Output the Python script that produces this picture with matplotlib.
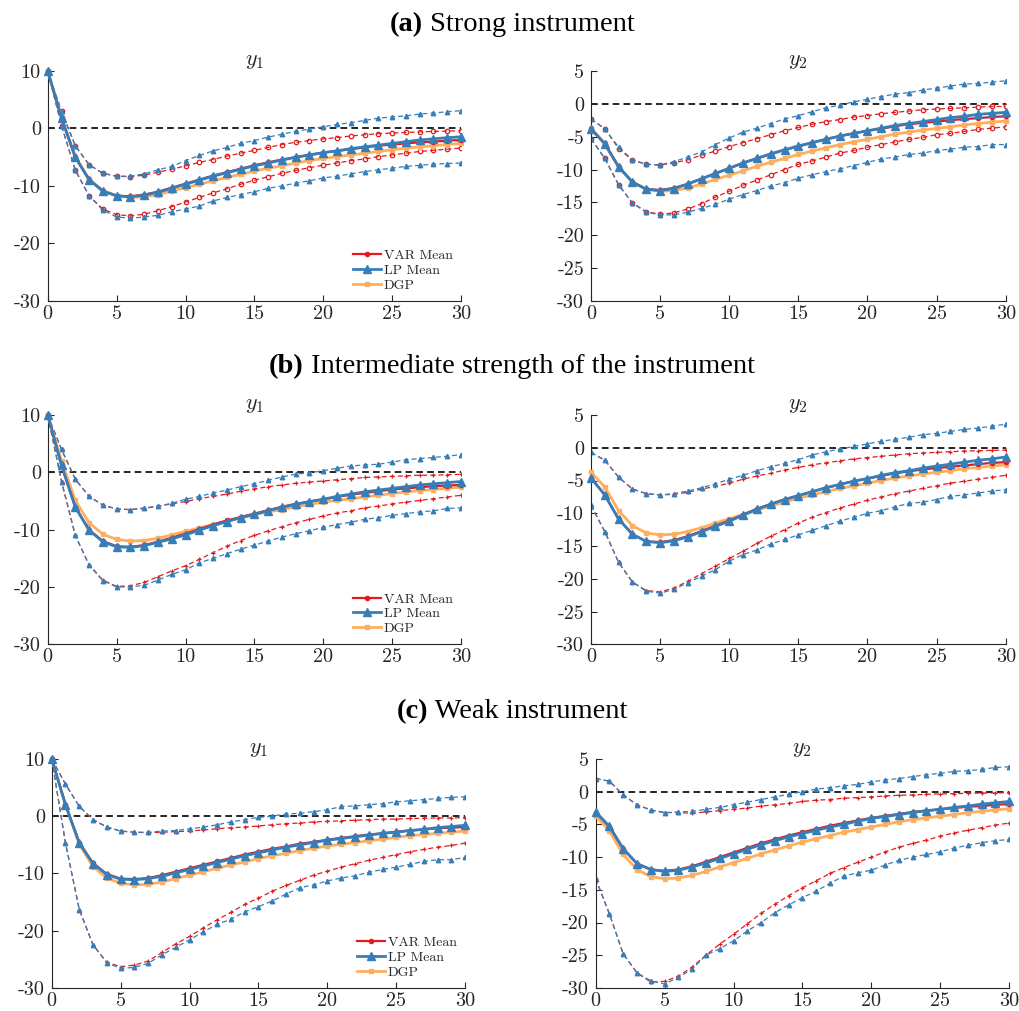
import matplotlib
matplotlib.use("Agg")
import matplotlib.pyplot as plt

plt.rcParams["font.family"] = "cmr10"
plt.rcParams["mathtext.fontset"] = "cm"
plt.rcParams["axes.unicode_minus"] = False
plt.rcParams["axes.formatter.use_mathtext"] = True

horizons = list(range(31))

# True impulse responses of the data generating process
dgp_y1 = [10, 2.0, -4.9, -8.8, -10.8, -11.7, -12.0, -11.9, -11.5, -10.9, -10.3, -9.7, -9.1, -8.5, -8.0,
          -7.4, -6.9, -6.5, -6.0, -5.6, -5.2, -4.9, -4.6, -4.3, -4.0, -3.7, -3.4, -3.2, -3.0, -2.8, -2.6]
dgp_y2 = [-3.7, -6.0, -9.6, -11.9, -13.0, -13.3, -13.2, -12.8, -12.2, -11.5, -10.85, -10.2, -9.5, -8.9, -8.3,
          -7.7, -7.2, -6.7, -6.2, -5.8, -5.4, -5.0, -4.6, -4.3, -4.0, -3.75, -3.5, -3.2, -3.0, -2.8, -2.6]

# (a) Strong instrument, y1
a1_var_mean = [10, 1.8, -5.0, -8.9, -10.9, -11.7, -11.8, -11.5, -11.0, -10.3, -9.6, -8.9, -8.2, -7.6, -7.0,
               -6.4, -5.9, -5.4, -5.0, -4.6, -4.2, -3.9, -3.6, -3.3, -3.0, -2.8, -2.6, -2.4, -2.3, -2.1, -2.0]
a1_var_hi = [10, 3.0, -3.0, -6.3, -7.8, -8.3, -8.4, -8.1, -7.6, -7.1, -6.5, -5.9, -5.4, -4.8, -4.3,
             -3.8, -3.3, -2.8, -2.4, -2.1, -1.8, -1.6, -1.3, -1.1, -0.9, -0.8, -0.7, -0.6, -0.5, -0.45, -0.4]
a1_var_lo = [10, 0.5, -7.2, -11.7, -14.0, -15.0, -15.2, -14.9, -14.3, -13.6, -12.8, -12.0, -11.2, -10.5, -9.7,
             -9.0, -8.4, -7.8, -7.3, -6.8, -6.4, -6.0, -5.6, -5.3, -4.9, -4.6, -4.3, -4.0, -3.8, -3.6, -3.4]
a1_lp_mean = [10, 1.8, -5.0, -8.9, -10.9, -11.7, -11.9, -11.6, -11.1, -10.4, -9.7, -9.0, -8.3, -7.7, -7.1,
              -6.5, -6.0, -5.5, -5.0, -4.6, -4.2, -3.9, -3.5, -3.2, -2.9, -2.6, -2.3, -2.0, -1.8, -1.6, -1.45]
a1_lp_hi = [10, 3.0, -3.0, -6.3, -7.8, -8.3, -8.3, -7.9, -7.2, -6.6, -5.6, -4.7, -3.9, -3.3, -2.6,
            -2.1, -1.5, -1.0, -0.5, -0.1, 0.3, 0.7, 1.0, 1.4, 1.8, 2.0, 2.2, 2.5, 2.7, 2.9, 3.1]
a1_lp_lo = [10, 0.5, -7.3, -11.7, -14.2, -15.4, -15.6, -15.4, -15.1, -14.5, -14.0, -13.5, -12.6, -12.0, -11.5,
            -11.0, -10.4, -10.0, -9.5, -9.1, -8.6, -8.3, -7.9, -7.5, -7.2, -6.9, -6.6, -6.4, -6.2, -6.1, -6.0]

# (a) Strong instrument, y2
a2_var_mean = [-3.8, -6.1, -9.6, -11.9, -13.0, -13.1, -12.8, -12.2, -11.4, -10.6, -9.8, -9.0, -8.3, -7.7, -7.0,
               -6.5, -5.9, -5.4, -4.9, -4.5, -4.1, -3.8, -3.4, -3.1, -2.9, -2.7, -2.5, -2.3, -2.2, -2.0, -1.9]
a2_var_hi = [-2.3, -3.8, -6.8, -8.6, -9.2, -9.3, -9.0, -8.5, -7.8, -7.2, -6.5, -5.9, -5.3, -4.7, -4.1,
             -3.6, -3.1, -2.7, -2.4, -2.0, -1.8, -1.5, -1.3, -1.1, -0.9, -0.8, -0.7, -0.6, -0.5, -0.4, -0.4]
a2_var_lo = [-5.3, -8.3, -12.3, -15.1, -16.4, -16.8, -16.6, -16.0, -15.2, -14.2, -13.3, -12.4, -11.6, -10.8, -10.0,
             -9.2, -8.7, -8.1, -7.5, -7.1, -6.6, -6.2, -5.8, -5.4, -5.1, -4.7, -4.5, -4.2, -3.9, -3.7, -3.5]
a2_lp_mean = [-3.8, -6.1, -9.6, -11.9, -13.0, -13.2, -12.9, -12.2, -11.4, -10.6, -9.8, -9.0, -8.3, -7.6, -7.0,
              -6.4, -5.9, -5.4, -4.9, -4.5, -4.1, -3.7, -3.3, -3.0, -2.7, -2.4, -2.1, -1.9, -1.6, -1.45, -1.3]
a2_lp_hi = [-2.3, -3.8, -6.6, -8.5, -9.2, -9.3, -8.8, -8.1, -7.3, -6.2, -5.2, -4.3, -3.7, -3.0, -2.3,
            -1.8, -1.2, -0.6, -0.2, 0.3, 0.7, 1.1, 1.5, 1.7, 2.1, 2.4, 2.7, 3.0, 3.1, 3.3, 3.5]
a2_lp_lo = [-5.3, -8.3, -12.4, -15.1, -16.5, -16.9, -16.9, -16.5, -15.9, -15.3, -14.5, -13.8, -13.2, -12.5, -12.0,
            -11.3, -10.8, -10.3, -9.9, -9.4, -8.9, -8.4, -8.1, -7.7, -7.5, -7.1, -6.9, -6.6, -6.5, -6.2, -6.2]

# (b) Intermediate strength, y1
b1_var_mean = [10, 1.2, -6.0, -10.0, -12.0, -12.9, -13.0, -12.7, -12.1, -11.4, -10.7, -9.9, -9.1, -8.4, -7.8,
               -7.2, -6.6, -6.0, -5.5, -5.1, -4.7, -4.3, -3.9, -3.6, -3.3, -3.0, -2.8, -2.6, -2.4, -2.3, -2.2]
b1_var_hi = [10, 4.0, -1.2, -4.2, -5.7, -6.4, -6.5, -6.3, -5.9, -5.5, -5.1, -4.6, -4.2, -3.8, -3.3,
             -2.9, -2.5, -2.2, -1.9, -1.7, -1.5, -1.3, -1.1, -0.9, -0.8, -0.7, -0.6, -0.5, -0.5, -0.4, -0.35]
b1_var_lo = [10, -1.6, -11.0, -16.1, -18.8, -19.9, -19.8, -19.2, -18.2, -17.2, -16.3, -15.2, -14.0, -12.9, -11.9,
             -11.0, -10.2, -9.5, -8.8, -8.2, -7.6, -7.1, -6.7, -6.2, -5.9, -5.5, -5.2, -4.9, -4.6, -4.3, -4.0]
b1_lp_mean = [10, 1.2, -6.1, -10.1, -12.1, -13.0, -13.1, -12.8, -12.2, -11.6, -10.9, -10.1, -9.3, -8.6, -7.9,
              -7.3, -6.7, -6.1, -5.6, -5.1, -4.7, -4.2, -3.8, -3.4, -3.1, -2.8, -2.5, -2.2, -2.0, -1.8, -1.6]
b1_lp_hi = [10, 4.0, -1.2, -4.2, -5.7, -6.4, -6.5, -6.2, -5.9, -5.4, -4.7, -4.2, -3.6, -3.1, -2.5,
            -2.0, -1.4, -0.8, -0.3, -0.1, 0.3, 0.7, 1.1, 1.3, 1.4, 1.8, 2.2, 2.4, 2.6, 2.8, 3.1]
b1_lp_lo = [10, -1.6, -11.0, -16.2, -18.9, -20.0, -20.0, -19.7, -18.8, -17.8, -17.0, -15.8, -15.0, -14.2, -13.4,
            -12.7, -12.0, -11.3, -10.7, -10.2, -9.6, -9.1, -8.7, -8.2, -7.9, -7.5, -7.2, -6.9, -6.7, -6.3, -6.2]

# (b) Intermediate strength, y2
b2_var_mean = [-4.6, -7.2, -10.9, -13.2, -14.3, -14.4, -14.1, -13.5, -12.7, -11.9, -11.1, -10.2, -9.3, -8.6, -7.9,
               -7.3, -6.7, -6.1, -5.6, -5.1, -4.7, -4.3, -3.9, -3.6, -3.3, -3.1, -2.9, -2.7, -2.5, -2.3, -2.2]
b2_var_hi = [-0.7, -1.9, -4.5, -6.3, -7.0, -7.2, -7.1, -6.8, -6.3, -5.9, -5.4, -4.8, -4.3, -3.9, -3.4,
             -3.0, -2.6, -2.3, -2.0, -1.7, -1.5, -1.3, -1.1, -0.9, -0.8, -0.7, -0.6, -0.5, -0.45, -0.4, -0.35]
b2_var_lo = [-8.8, -12.8, -17.5, -20.5, -21.8, -22.0, -21.4, -20.4, -19.2, -18.1, -16.9, -15.8, -14.6, -13.5, -12.5,
             -11.5, -10.6, -9.9, -9.2, -8.6, -8.0, -7.5, -7.0, -6.6, -6.2, -5.8, -5.4, -5.1, -4.8, -4.5, -4.2]
b2_lp_mean = [-4.6, -7.2, -10.9, -13.2, -14.3, -14.5, -14.2, -13.6, -12.8, -12.0, -11.2, -10.3, -9.4, -8.6, -7.9,
              -7.3, -6.7, -6.1, -5.6, -5.1, -4.7, -4.2, -3.8, -3.5, -3.1, -2.8, -2.5, -2.2, -1.9, -1.7, -1.4]
b2_lp_hi = [-0.7, -1.9, -4.5, -6.3, -7.0, -7.2, -7.0, -6.6, -6.1, -5.5, -4.8, -4.2, -3.5, -2.9, -2.4,
            -1.8, -1.1, -0.6, -0.2, 0.2, 0.6, 1.0, 1.3, 1.6, 2.0, 2.2, 2.5, 2.8, 3.0, 3.3, 3.6]
b2_lp_lo = [-8.8, -12.8, -17.5, -20.5, -21.9, -22.2, -21.6, -20.6, -19.6, -18.6, -17.3, -16.3, -15.6, -14.7, -14.0,
            -13.3, -12.6, -11.9, -11.2, -10.6, -10.0, -9.6, -9.0, -8.5, -8.3, -7.9, -7.4, -7.2, -6.9, -6.6, -6.4]

# (c) Weak instrument, y1
c1_var_mean = [10, 2.0, -4.6, -8.2, -10.1, -10.9, -11.0, -10.8, -10.3, -9.7, -9.1, -8.5, -7.9, -7.3, -6.7,
               -6.2, -5.7, -5.3, -4.8, -4.5, -4.1, -3.8, -3.5, -3.2, -3.0, -2.7, -2.5, -2.3, -2.1, -2.0, -1.9]
c1_var_hi = [10, 5.6, 1.7, -0.6, -1.9, -2.6, -2.8, -2.9, -2.8, -2.7, -2.6, -2.4, -2.2, -2.0, -1.9,
             -1.7, -1.5, -1.3, -1.2, -1.0, -0.9, -0.8, -0.7, -0.6, -0.5, -0.5, -0.4, -0.35, -0.3, -0.3, -0.25]
c1_var_lo = [10, -4.7, -16.3, -22.5, -25.5, -26.3, -26.0, -25.3, -23.8, -22.3, -21.0, -19.5, -18.1, -16.8, -15.4,
             -14.3, -13.1, -12.1, -11.2, -10.3, -9.6, -8.9, -8.3, -7.7, -7.2, -6.7, -6.2, -5.8, -5.4, -5.1, -4.7]
c1_lp_mean = [10, 2.0, -4.7, -8.3, -10.2, -11.0, -11.1, -10.9, -10.5, -9.9, -9.3, -8.7, -8.1, -7.5, -6.9,
              -6.4, -5.9, -5.4, -5.0, -4.6, -4.2, -3.9, -3.6, -3.3, -3.0, -2.8, -2.5, -2.3, -2.0, -1.8, -1.6]
c1_lp_hi = [10, 5.6, 1.7, -0.6, -1.9, -2.6, -2.8, -2.8, -2.6, -2.5, -2.2, -1.9, -1.5, -1.0, -0.6,
            -0.2, 0.0, 0.4, 0.5, 0.8, 1.1, 1.7, 1.8, 2.0, 2.2, 2.5, 2.7, 2.9, 3.1, 3.3, 3.4]
c1_lp_lo = [10, -4.7, -16.3, -22.5, -25.6, -26.6, -26.4, -25.7, -24.2, -22.9, -21.6, -20.2, -18.9, -18.0, -16.7,
            -15.8, -14.8, -13.6, -12.5, -12.0, -11.3, -10.8, -10.4, -9.8, -9.3, -8.9, -8.4, -7.9, -7.6, -7.6, -7.2]

# (c) Weak instrument, y2
c2_var_mean = [-3.2, -5.4, -8.8, -11.0, -11.9, -12.1, -11.9, -11.4, -10.7, -10.0, -9.3, -8.6, -7.9, -7.3, -6.7,
               -6.2, -5.7, -5.2, -4.8, -4.4, -4.0, -3.7, -3.4, -3.1, -2.9, -2.7, -2.5, -2.3, -2.2, -2.0, -1.9]
c2_var_hi = [2.0, 1.6, -0.5, -2.0, -2.8, -3.2, -3.2, -3.3, -3.1, -2.9, -2.7, -2.5, -2.2, -2.0, -1.8,
             -1.5, -1.3, -1.2, -1.0, -0.9, -0.8, -0.65, -0.55, -0.5, -0.4, -0.35, -0.3, -0.25, -0.2, -0.2, -0.15]
c2_var_lo = [-13.3, -18.7, -24.8, -27.7, -29.1, -29.0, -28.2, -26.8, -25.0, -23.3, -21.8, -20.2, -18.6, -17.2, -15.9,
             -14.7, -13.6, -12.5, -11.6, -10.8, -10.0, -9.2, -8.5, -7.9, -7.4, -6.8, -6.3, -5.9, -5.5, -5.1, -4.8]
c2_lp_mean = [-3.1, -5.3, -8.7, -11.0, -11.9, -12.2, -12.0, -11.5, -10.9, -10.2, -9.5, -8.8, -8.1, -7.5, -6.9,
              -6.4, -5.9, -5.4, -5.0, -4.5, -4.1, -3.8, -3.5, -3.2, -2.9, -2.7, -2.4, -2.2, -1.9, -1.7, -1.5]
c2_lp_hi = [2.0, 1.6, -0.5, -2.0, -2.8, -3.2, -3.1, -3.0, -2.7, -2.4, -2.0, -1.6, -1.2, -0.8, -0.4,
            0.0, 0.4, 0.6, 0.9, 1.1, 1.5, 1.8, 2.0, 2.3, 2.6, 2.8, 3.1, 3.2, 3.4, 3.7, 3.8]
c2_lp_lo = [-13.3, -18.7, -24.8, -27.7, -28.9, -29.4, -28.4, -27.1, -25.0, -24.0, -22.8, -21.3, -20.0, -18.5, -17.3,
            -16.2, -15.2, -14.0, -12.9, -12.4, -12.0, -11.2, -10.5, -10.0, -9.6, -9.2, -8.6, -8.2, -7.8, -7.5, -7.3]

x_ticks = [0, 5, 10, 15, 20, 25, 30]
x_tick_labels = ["0", "5", "10", "15", "20", "25", "30"]
y1_ticks = [-30, -20, -10, 0, 10]
y1_tick_labels = ["-30", "-20", "-10", "0", "10"]
y2_ticks = [-30, -25, -20, -15, -10, -5, 0, 5]
y2_tick_labels = ["-30", "-25", "-20", "-15", "-10", "-5", "0", "5"]

section_tags = ["(a)", "(b)", "(c)"]
section_names = ["Strong instrument", "Intermediate strength of the instrument", "Weak instrument"]
series_labels = ["VAR Mean", "LP Mean", "DGP"]
panel_titles = [r"$y_1$", r"$y_2$"]

RED = "#E41A1C"
BLUE = "#377EB8"
ORANGE = "#FFAE5E"
TEXT = "#262626"

fig = plt.figure(figsize=(10.2, 10.11), dpi=100)

# axes rectangles [left, bottom, width, height] in figure fractions
rows = [
    ([0.0468, 0.7023, 0.4052, 0.2275], [0.5794, 0.7023, 0.4066, 0.2275]),
    ([0.0468, 0.3627, 0.4052, 0.2268], [0.5794, 0.3627, 0.4066, 0.2268]),
    ([0.0507, 0.0228, 0.4054, 0.2265], [0.5840, 0.0228, 0.4054, 0.2265]),
]
title_y = [0.9753, 0.6370, 0.2958]

panels = [
    [(dgp_y1, a1_var_mean, a1_var_lo, a1_var_hi, a1_lp_mean, a1_lp_lo, a1_lp_hi),
     (dgp_y2, a2_var_mean, a2_var_lo, a2_var_hi, a2_lp_mean, a2_lp_lo, a2_lp_hi)],
    [(dgp_y1, b1_var_mean, b1_var_lo, b1_var_hi, b1_lp_mean, b1_lp_lo, b1_lp_hi),
     (dgp_y2, b2_var_mean, b2_var_lo, b2_var_hi, b2_lp_mean, b2_lp_lo, b2_lp_hi)],
    [(dgp_y1, c1_var_mean, c1_var_lo, c1_var_hi, c1_lp_mean, c1_lp_lo, c1_lp_hi),
     (dgp_y2, c2_var_mean, c2_var_lo, c2_var_hi, c2_lp_mean, c2_lp_lo, c2_lp_hi)],
]

band_markers = ["o", "+", "+"]


def draw_panel(ax, series, col, row):
    dgp, vm, vlo, vhi, lm, llo, lhi = series
    ax.axhline(0, color="black", lw=1.2, ls=(0, (4, 2.5)), zorder=1)
    vkw = dict(color=RED, lw=0.9, ls=(0, (4, 2.5)), marker=band_markers[row], ms=3.2,
               mfc="none" if row == 0 else RED, mew=0.9, zorder=2)
    ax.plot(horizons, vhi, **vkw)
    ax.plot(horizons, vlo, **vkw)
    lkw = dict(color=BLUE, lw=0.9, ls=(0, (4, 2.5)), marker="^", ms=3.2, zorder=2)
    ax.plot(horizons, lhi, **lkw)
    ax.plot(horizons, llo, **lkw)
    h_dgp, = ax.plot(horizons, dgp, color=ORANGE, lw=2.0, marker="s", ms=2.8, zorder=3)
    h_var, = ax.plot(horizons, vm, color=RED, lw=1.6, marker=".", ms=6, zorder=4)
    h_lp, = ax.plot(horizons, lm, color=BLUE, lw=2.0, marker="^", ms=6, zorder=5)

    ax.set_xlim(0, 30)
    if col == 0:
        ax.set_ylim(-30, 10)
        ax.set_yticks(y1_ticks, y1_tick_labels)
    else:
        ax.set_ylim(-30, 5)
        ax.set_yticks(y2_ticks, y2_tick_labels)
    ax.set_xticks(x_ticks, x_tick_labels)
    for side in ("top", "right"):
        ax.spines[side].set_visible(False)
    for side in ("left", "bottom"):
        ax.spines[side].set_color(TEXT)
        ax.spines[side].set_linewidth(0.8)
    ax.tick_params(direction="in", length=4, width=0.8, colors=TEXT, labelsize=14.5, pad=3)
    ax.tick_params(axis="y", pad=5)
    ax.set_title(panel_titles[col], fontsize=16, color=TEXT, pad=3)
    for a in (h_var, h_lp, h_dgp):
        a.set_clip_on(False)

    if col == 0:
        ax.legend([h_var, h_lp, h_dgp], series_labels, loc="lower right",
                  bbox_to_anchor=(0.98, 0.04), frameon=False, fontsize=10,
                  handlelength=2.0, handletextpad=0.2, labelspacing=0.15,
                  borderpad=0, borderaxespad=0, labelcolor=TEXT)


for r, (rect_l, rect_r) in enumerate(rows):
    for c, rect in enumerate((rect_l, rect_r)):
        ax = fig.add_axes(rect)
        draw_panel(ax, panels[r][c], c, r)

# Section headings: bold tag followed by regular text, centred as one line
fig.canvas.draw()
renderer = fig.canvas.get_renderer()
for r in range(3):
    tag = fig.text(0, title_y[r], section_tags[r], fontsize=20.5, fontweight="bold",
                   family="Liberation Serif", va="center", ha="left", color="black")
    name = fig.text(0, title_y[r], " " + section_names[r], fontsize=20.5,
                    family="Liberation Serif", va="center", ha="left", color="black")
    w_tag = tag.get_window_extent(renderer).width
    w_name = name.get_window_extent(renderer).width
    total = w_tag + w_name
    x0 = (0.502 * fig.bbox.width - total / 2) / fig.bbox.width
    tag.set_x(x0)
    name.set_x(x0 + w_tag / fig.bbox.width)

fig.savefig("out.png", dpi=100)
